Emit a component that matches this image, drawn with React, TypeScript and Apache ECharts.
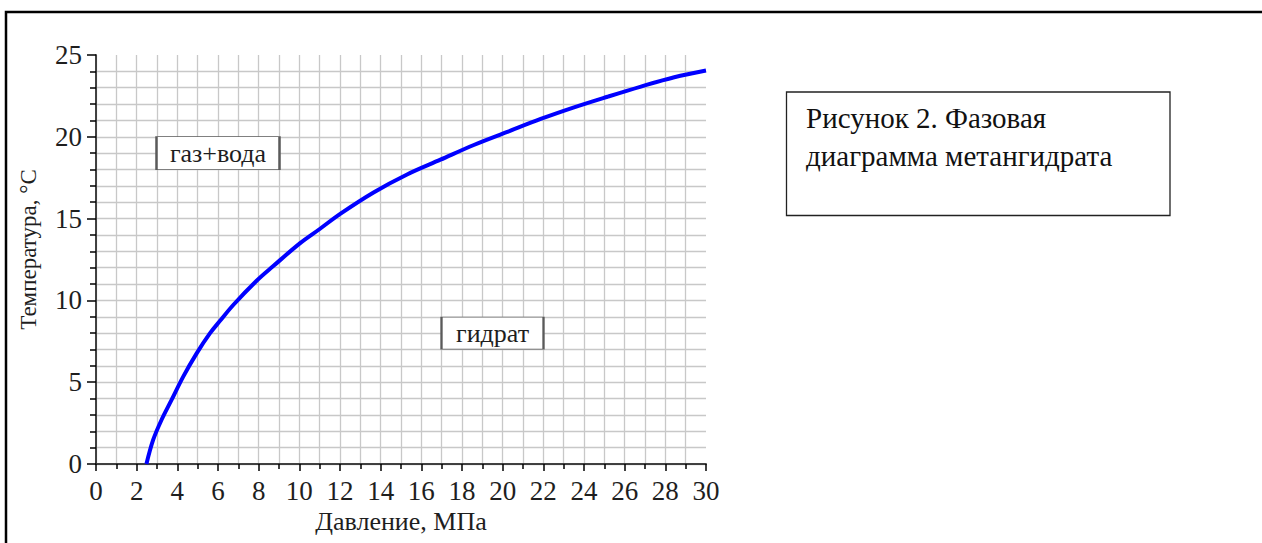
import React, { useEffect, useRef } from "react";
import * as echarts from "echarts";

// Phase equilibrium curve of methane hydrate (pressure, MPa -> temperature, °C)
const pressure = [2.48, 2.81, 3.22, 3.71, 4.29, 4.95, 5.6, 6.1, 6.75, 7.9, 8.72, 10.04, 11.02, 12.01, 13.65, 15.3, 16.94, 18.58, 20.23, 21.87, 23.51, 25.16, 26.8, 28.44, 30];
const temperature = [0, 1.47, 2.69, 3.9, 5.34, 6.76, 7.98, 8.75, 9.72, 11.2, 12.1, 13.5, 14.38, 15.29, 16.6, 17.7, 18.6, 19.5, 20.3, 21.09, 21.8, 22.45, 23.07, 23.64, 24.05];

// Region labels (text and their centre in data coordinates)
const regionNames = ["газ+вода", "гидрат"];
const regionP = [6, 19.5];
const regionT = [19, 8];

const xAxisName = "Давление, МПа";
const yAxisName = "Температура, °C";
const captionLines = ["Рисунок 2. Фазовая", "диаграмма метангидрата"];

const FONT = "'Liberation Serif', 'Times New Roman', serif";
const TEXT = "#1e1e1e";
const GRIDLINE = "#c8c8c8";

export default function App() {
  const ref = useRef<HTMLDivElement>(null);

  useEffect(() => {
    if (!ref.current) return;
    const chart = echarts.init(ref.current, undefined, { renderer: "svg" });

    const curve = pressure.map((p, i) => [p, temperature[i]]);
    const regions = regionNames.map((name, i) => ({
      value: [regionP[i], regionT[i]],
      name,
      symbolSize: i === 0 ? [123, 33] : [102, 32],
    }));

    const option: any = {
      animation: false,
      backgroundColor: "#ffffff",
      grid: { left: 96, right: 556, top: 55, bottom: 79, show: false },
      xAxis: [
        {
          type: "value",
          min: 0,
          max: 30,
          interval: 2,
          name: xAxisName,
          nameLocation: "middle",
          nameGap: 36,
          nameTextStyle: { fontFamily: FONT, fontSize: 26, color: TEXT },
          axisLine: { show: true, onZero: false, lineStyle: { color: "#000", width: 1.5 } },
          axisTick: { show: true, length: 7, lineStyle: { color: "#000", width: 1.5 } },
          minorTick: { show: true, splitNumber: 2, length: 5, lineStyle: { color: "#000", width: 1.5 } },
          axisLabel: { fontFamily: FONT, fontSize: 27, color: TEXT, margin: 13 },
          splitLine: { show: true, showMaxLine: false, lineStyle: { color: GRIDLINE, width: 1.3 } },
          minorSplitLine: { show: true, lineStyle: { color: GRIDLINE, width: 1.3 } },
        },
        {
          type: "value",
          position: "top",
          min: 0,
          max: 30,
          axisLine: { show: true, lineStyle: { color: "#444", width: 1.5 } },
          axisTick: { show: false },
          axisLabel: { show: false },
          splitLine: { show: false },
        },
      ],
      yAxis: [
        {
          type: "value",
          min: 0,
          max: 25,
          interval: 5,
          name: yAxisName,
          nameLocation: "middle",
          nameGap: 56,
          nameTextStyle: { fontFamily: FONT, fontSize: 23, color: TEXT, padding: [0, 0, 0, 20] },
          axisLine: { show: true, onZero: false, lineStyle: { color: "#000", width: 1.5 } },
          axisTick: { show: true, length: 9, lineStyle: { color: "#000", width: 1.5 } },
          minorTick: { show: true, splitNumber: 5, length: 6, lineStyle: { color: "#000", width: 1.5 } },
          axisLabel: { fontFamily: FONT, fontSize: 27, color: TEXT, margin: 14 },
          splitLine: { show: true, showMaxLine: false, lineStyle: { color: GRIDLINE, width: 1.3 } },
          minorSplitLine: { show: true, lineStyle: { color: GRIDLINE, width: 1.3 } },
        },
        {
          type: "value",
          position: "right",
          min: 0,
          max: 25,
          axisLine: { show: true, lineStyle: { color: "#444", width: 1.5 } },
          axisTick: { show: false },
          axisLabel: { show: false },
          splitLine: { show: false },
        },
      ],
      series: [
        {
          type: "line",
          data: curve,
          xAxisIndex: 0,
          yAxisIndex: 0,
          showSymbol: false,
          smooth: 0.35,
          silent: true,
          lineStyle: { color: "#0000ff", width: 4 },
          z: 5,
        },
        {
          type: "scatter",
          data: regions,
          xAxisIndex: 0,
          yAxisIndex: 0,
          symbol: "rect",
          silent: true,
          itemStyle: { color: "#ffffff", borderColor: "#5a5a5a", borderWidth: 1.3, opacity: 1 },
          label: {
            show: true,
            position: "inside",
            formatter: (p: any) => p.name,
            fontFamily: FONT,
            fontSize: 26,
            color: TEXT,
          },
          z: 6,
        },
      ],
      graphic: [
        {
          type: "rect",
          silent: true,
          shape: { x: 6, y: 12, width: 1400, height: 700 },
          style: { fill: "none", stroke: "#000", lineWidth: 2.5 },
          z: 100,
        },
        {
          type: "rect",
          silent: true,
          shape: { x: 786.5, y: 92, width: 383.5, height: 123.5 },
          style: { fill: "#fff", stroke: "#222", lineWidth: 1.3 },
          z: 100,
        },
        {
          type: "text",
          silent: true,
          x: 806,
          y: 103,
          style: {
            text: captionLines[0],
            fontFamily: FONT,
            fontSize: 29,
            fill: "#111",
          },
          z: 101,
        },
        {
          type: "text",
          silent: true,
          x: 806,
          y: 141.5,
          style: {
            text: captionLines[1],
            fontFamily: FONT,
            fontSize: 29,
            fill: "#111",
          },
          z: 101,
        },
      ],
    };

    chart.setOption(option);
    return () => chart.dispose();
  }, []);

  return (
    <div
      ref={ref}
      style={{ position: "absolute", left: 0, top: 0, width: 1262, height: 543, background: "#fff" }}
    />
  );
}
